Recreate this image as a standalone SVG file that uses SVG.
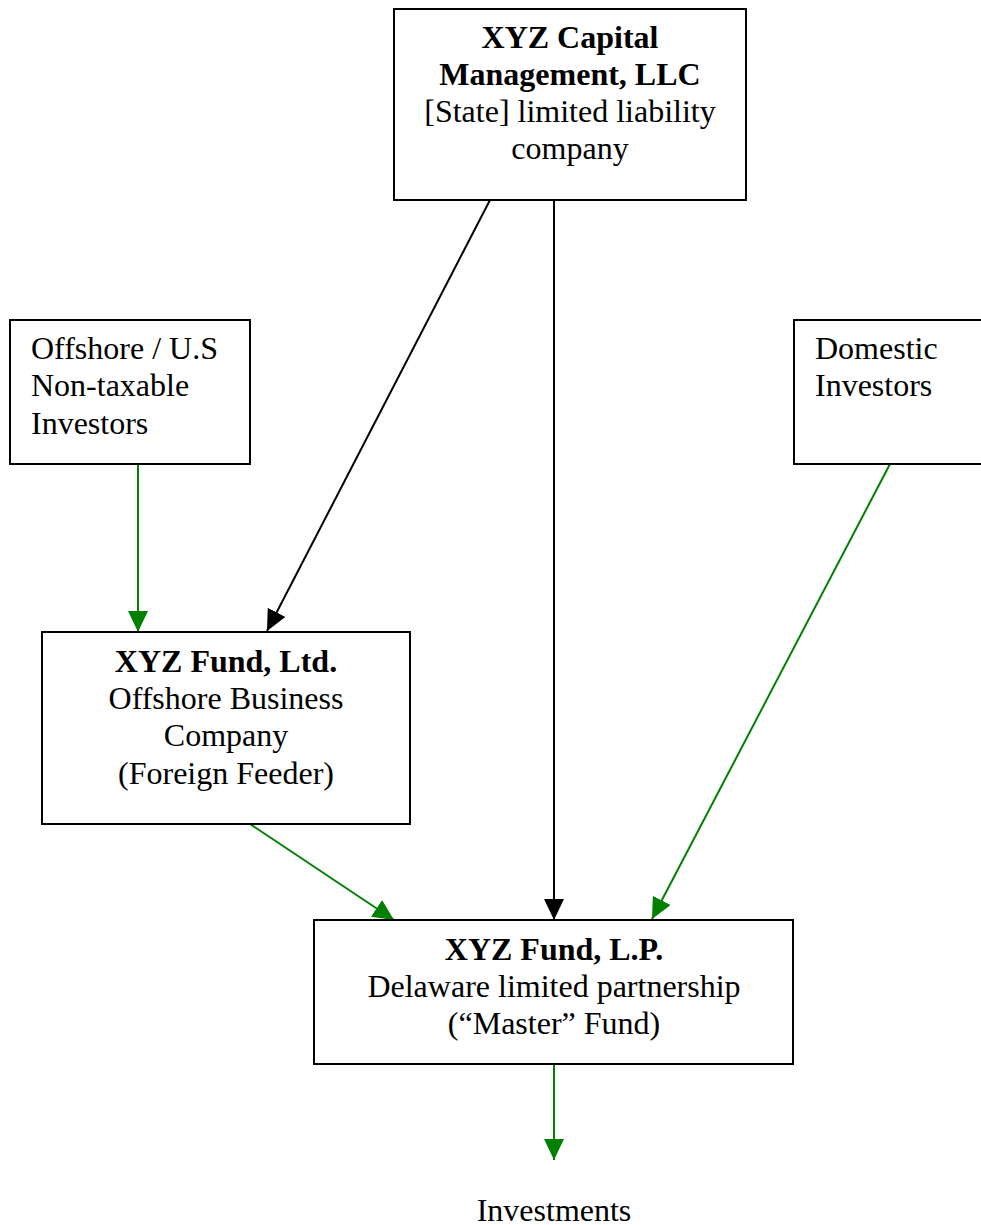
<svg xmlns="http://www.w3.org/2000/svg" width="981" height="1225" viewBox="0 0 981 1225">
<style>
.box{fill:#fff;stroke:#000;stroke-width:2}
.t{font-family:"Liberation Serif","Times New Roman",serif;font-size:32px;fill:#000}
.b{font-weight:bold}
.m{text-anchor:middle}
.k{stroke:#000;stroke-width:2;fill:none}
.g{stroke:#008000;stroke-width:2;fill:none}
</style>
<defs>
<marker id="ak" markerUnits="userSpaceOnUse" markerWidth="22" markerHeight="20" refX="21" refY="10" orient="auto" viewBox="0 0 22 20"><path d="M0,0 L21,10 L0,20 z" fill="#000"/></marker>
<marker id="ag" markerUnits="userSpaceOnUse" markerWidth="22" markerHeight="20" refX="21" refY="10" orient="auto" viewBox="0 0 22 20"><path d="M0,0 L21,10 L0,20 z" fill="#008000"/></marker>
</defs>
<rect width="981" height="1225" fill="#fff"/>
<g id="connectors">
<line class="k" x1="490" y1="200" x2="267" y2="631" marker-end="url(#ak)"/>
<line class="k" x1="554" y1="200" x2="554" y2="920" marker-end="url(#ak)"/>
<line class="g" x1="138" y1="464" x2="138" y2="632" marker-end="url(#ag)"/>
<line class="g" x1="890" y1="464" x2="652" y2="919" marker-end="url(#ag)"/>
<line class="g" x1="250" y1="824" x2="394" y2="920" marker-end="url(#ag)"/>
<line class="g" x1="554" y1="1064" x2="554" y2="1160" marker-end="url(#ag)"/>
</g>
<g id="xyz-capital">
<rect class="box" x="394" y="9" width="352" height="191"/>
<text class="t b m" x="570" y="48">XYZ Capital</text>
<text class="t b m" x="570" y="85">Management, LLC</text>
<text class="t m" x="570" y="122">[State] limited liability</text>
<text class="t m" x="570" y="159">company</text>
</g>
<g id="offshore-investors">
<rect class="box" x="10" y="320" width="240" height="144"/>
<text class="t" x="31" y="359">Offshore / U.S</text>
<text class="t" x="31" y="396">Non-taxable</text>
<text class="t" x="31" y="434">Investors</text>
</g>
<g id="domestic-investors">
<rect class="box" x="794" y="320" width="200" height="144"/>
<text class="t" x="815" y="359">Domestic</text>
<text class="t" x="815" y="396">Investors</text>
</g>
<g id="xyz-fund-ltd">
<rect class="box" x="42" y="632" width="368" height="192"/>
<text class="t b m" x="226" y="672">XYZ Fund, Ltd.</text>
<text class="t m" x="226" y="709">Offshore Business</text>
<text class="t m" x="226" y="746">Company</text>
<text class="t m" x="226" y="784">(Foreign Feeder)</text>
</g>
<g id="xyz-fund-lp">
<rect class="box" x="314" y="920" width="479" height="144"/>
<text class="t b m" x="554" y="960">XYZ Fund, L.P.</text>
<text class="t m" x="554" y="997">Delaware limited partnership</text>
<text class="t m" x="554" y="1034">(“Master” Fund)</text>
</g>
<g id="investments">
<text class="t m" x="554" y="1221">Investments</text>
</g>
</svg>
